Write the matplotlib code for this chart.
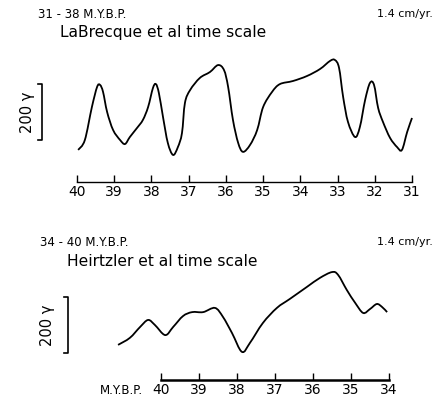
import matplotlib
matplotlib.use("Agg")
import matplotlib.pyplot as plt
import matplotlib.transforms as mtransforms
from matplotlib.path import Path
from matplotlib.patches import PathPatch

plt.rcParams['font.family'] = ['DejaVu Sans']

# LaBrecque et al time scale, 31-38 m.y.b.p. (age in m.y., anomaly in gammas)
top_age = [39.97, 39.79, 39.60, 39.46, 39.38, 39.30, 39.19, 39.03, 38.84, 38.71,
           38.58, 38.39, 38.23, 38.09, 37.96, 37.88, 37.80, 37.69, 37.56, 37.42,
           37.29, 37.18, 37.10, 36.96, 36.70, 36.43, 36.21, 36.05, 35.94, 35.81,
           35.67, 35.54, 35.35, 35.16, 35.00, 34.76, 34.55, 34.20, 33.82, 33.47,
           33.20, 33.07, 32.96, 32.85, 32.72, 32.53, 32.40, 32.26, 32.13, 32.02,
           31.91, 31.78, 31.59, 31.40, 31.27, 31.13, 31.00]
top_gamma = [36, 71, 189, 261, 268, 243, 171, 107, 71, 57,
             82, 114, 143, 189, 257, 271, 239, 154, 61, 18,
             46, 96, 204, 250, 293, 314, 339, 321, 261, 143,
             61, 29, 54, 107, 189, 243, 271, 282, 300, 325,
             354, 357, 329, 225, 136, 82, 118, 214, 275, 268,
             186, 136, 79, 46, 36, 100, 150]
top_ticks = [40, 39, 38, 37, 36, 35, 34, 33, 32, 31]

# Heirtzler et al time scale, 34-40 m.y.b.p.
bot_age = [41.13, 40.82, 40.55, 40.34, 40.16, 39.89, 39.68, 39.42, 39.18, 38.89,
           38.58, 38.37, 38.13, 37.87, 37.66, 37.32, 36.95, 36.61, 36.16, 35.82,
           35.50, 35.34, 35.11, 34.89, 34.68, 34.50, 34.32, 34.18, 34.05]
bot_gamma = [54, 79, 118, 143, 125, 89, 118, 157, 171, 171,
             186, 154, 96, 29, 61, 132, 186, 218, 261, 293,
             314, 304, 250, 204, 168, 182, 200, 189, 171]
bot_ticks = [40, 39, 38, 37, 36, 35, 34]

W, H = 437, 399
fig = plt.figure(figsize=(W / 100, H / 100), dpi=100)


def px(x0, y0, x1, y1):
    # axes rect from pixel box (top-left origin)
    return [x0 / W, 1 - y1 / H, (x1 - x0) / W, (y1 - y0) / H]


def smooth_path(xs, ys):
    # catmull-rom through the points, drawn as cubic bezier segments
    pts = list(zip(xs, ys))
    verts = [pts[0]]
    codes = [Path.MOVETO]
    n = len(pts)
    for i in range(n - 1):
        p0 = pts[max(i - 1, 0)]
        p1 = pts[i]
        p2 = pts[i + 1]
        p3 = pts[min(i + 2, n - 1)]
        c1 = (p1[0] + (p2[0] - p0[0]) / 6, p1[1] + (p2[1] - p0[1]) / 6)
        c2 = (p2[0] - (p3[0] - p1[0]) / 6, p2[1] - (p3[1] - p1[1]) / 6)
        verts += [c1, c2, p2]
        codes += [Path.CURVE4] * 3
    return Path(verts, codes)


def panel(rect, xlim, ylim, age, gamma, ticks, bar_x, bar_y, lab_x, spine_lw):
    ax = fig.add_axes(rect)
    ax.add_patch(PathPatch(smooth_path(age, gamma), fill=False, ec='black',
                           lw=1.3, clip_on=False))
    ax.set_xlim(*xlim)
    ax.set_ylim(*ylim)
    for s in ['top', 'right', 'left']:
        ax.spines[s].set_visible(False)
    ax.spines['bottom'].set_linewidth(spine_lw)
    ax.set_yticks([])
    ax.set_xticks(ticks)
    ax.set_xticklabels([str(t) for t in ticks])
    ax.tick_params(axis='x', direction='in', length=5, width=1.0, pad=2,
                   labelsize=10)
    # 200 gamma scale bar
    tr = mtransforms.blended_transform_factory(ax.transAxes, ax.transData)
    y0, y1 = bar_y
    dx = 4 / (rect[2] * W)
    ax.plot([bar_x - dx, bar_x, bar_x, bar_x - dx], [y1, y1, y0, y0],
            color='black', lw=1.2, transform=tr, clip_on=False)
    ax.text(lab_x, (y0 + y1) / 2, '200 γ', rotation=90, ha='center', va='center',
            fontsize=10.5, transform=tr)
    return ax


panel(px(77, 50, 412, 182), (40, 31), (-78.6, 392.8), top_age, top_gamma,
      top_ticks, -0.1045, (70, 270), -0.149, 1.0)
panel(px(161, 250, 389, 380), (40, 34), (-71.4, 392.8), bot_age, bot_gamma,
      bot_ticks, -0.408, (25, 225), -0.496, 1.8)

fig.text(38 / W, 1 - 14 / H, '31 - 38 M.Y.B.P.', fontsize=8.5, va='center')
fig.text(377 / W, 1 - 14 / H, '1.4 cm/yr.', fontsize=8, va='center')
fig.text(60 / W, 1 - 32 / H, 'LaBrecque et al time scale', fontsize=11.2, va='center')
fig.text(40 / W, 1 - 242 / H, '34 - 40 M.Y.B.P.', fontsize=8.5, va='center')
fig.text(377 / W, 1 - 242 / H, '1.4 cm/yr.', fontsize=8, va='center')
fig.text(67 / W, 1 - 262 / H, 'Heirtzler et al time scale', fontsize=11.2, va='center')
fig.text(100 / W, 1 - 390 / H, 'M.Y.B.P.', fontsize=8.5, va='center')

fig.savefig('out.png', dpi=100)
